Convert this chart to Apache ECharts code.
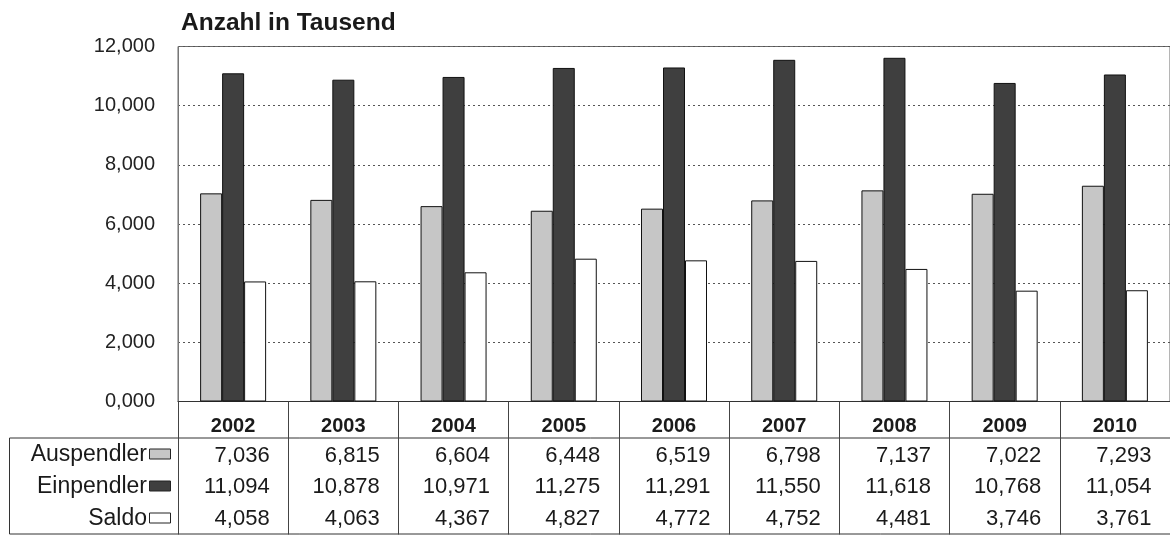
<!DOCTYPE html>
<html>
<head>
<meta charset="utf-8">
<script src="https://cdn.jsdelivr.net/npm/echarts@6/dist/echarts.min.js"></script>
<style>
  html, body { margin: 0; padding: 0; background: #fff; }
  #chart { width: 1170px; height: 536px; }
</style>
</head>
<body>
<div id="chart"></div>
<script>
// Pendler je Jahr, Anzahl in Tausend
const years = ['2002', '2003', '2004', '2005', '2006', '2007', '2008', '2009', '2010'];
const auspendler = [7.036, 6.815, 6.604, 6.448, 6.519, 6.798, 7.137, 7.022, 7.293];
const einpendler = [11.094, 10.878, 10.971, 11.275, 11.291, 11.550, 11.618, 10.768, 11.054];
const saldo = [4.058, 4.063, 4.367, 4.827, 4.772, 4.752, 4.481, 3.746, 3.761];
const seriesNames = ['Auspendler', 'Einpendler', 'Saldo'];
const seriesData = [auspendler, einpendler, saldo];
const yTicks = { min: 0, max: 12, step: 2 };

const fills = ['#c6c6c6', '#3f3f3f', '#ffffff'];
const FONT = '"Liberation Sans", Arial, sans-serif';

// 7.036 -> "7,036"
const fmt = v => v.toFixed(3).replace('.', ',');

const chart = echarts.init(document.getElementById('chart'), null, { renderer: 'canvas' });

const GRID = { left: 178, top: 46.5, width: 998, height: 355 };

const option = {
  backgroundColor: '#ffffff',
  animation: false,
  textStyle: { fontFamily: FONT },
  title: {
    text: 'Anzahl in Tausend',
    left: 176, top: 6,
    textStyle: { fontFamily: FONT, fontSize: 24.5, fontWeight: 'bold', color: '#1a1a1a' }
  },
  grid: {
    left: GRID.left, top: GRID.top, width: GRID.width, height: GRID.height,
    show: true, borderColor: '#6a6a6a', borderWidth: 1, backgroundColor: 'transparent'
  },
  xAxis: {
    type: 'category',
    data: years,
    axisLine: { show: true, lineStyle: { color: '#333', width: 1 } },
    axisTick: { show: true, interval: 0, length: 133, lineStyle: { color: '#444', width: 1 } },
    axisLabel: {
      interval: 0,
      margin: 12,
      align: 'center',
      formatter: (val, idx) => {
        const rows = seriesData.map(d => '{v|' + fmt(d[idx]) + '}');
        return ['{y|' + val + '}'].concat(rows).join('\n');
      },
      rich: {
        y: { fontFamily: FONT, fontSize: 20, fontWeight: 'bold', color: '#1a1a1a',
             width: 73, align: 'center', lineHeight: 26.5 },
        v: { fontFamily: FONT, fontSize: 22, color: '#1a1a1a',
             width: 73, align: 'right', lineHeight: 31.5 }
      }
    }
  },
  yAxis: {
    type: 'value',
    min: yTicks.min, max: yTicks.max, interval: yTicks.step,
    axisLine: { show: true, lineStyle: { color: '#777', width: 1 } },
    axisTick: { show: false },
    axisLabel: {
      margin: 23,
      fontFamily: FONT, fontSize: 20, color: '#222',
      formatter: v => fmt(v)
    },
    splitLine: { show: true, lineStyle: { color: '#555', width: 1, type: [2, 3] } }
  },
  series: seriesNames.map((name, i) => ({
    name: name,
    type: 'bar',
    data: seriesData[i],
    barWidth: 22,
    barGap: '0%',
    itemStyle: { color: fills[i], borderColor: '#111', borderWidth: 1 }
  }))
};

chart.setOption(option);

// Table frame and row headers with colour keys
function drawTable() {
  const axisY = GRID.top + GRID.height;
  const headBottom = axisY + 36.5;
  const tableBottom = 534;
  const rowH = (tableBottom - headBottom) / seriesNames.length;
  const right = GRID.left + GRID.width;
  const lineStyle = { stroke: '#333', lineWidth: 1 };
  const els = [
    { type: 'line', shape: { x1: 9.5, y1: headBottom, x2: right, y2: headBottom }, style: lineStyle, silent: true },
    { type: 'line', shape: { x1: 9.5, y1: tableBottom, x2: right, y2: tableBottom }, style: lineStyle, silent: true },
    { type: 'line', shape: { x1: 9.5, y1: headBottom, x2: 9.5, y2: tableBottom }, style: lineStyle, silent: true }
  ];
  seriesNames.forEach((name, i) => {
    const cy = headBottom + rowH * (i + 0.5);
    els.push({
      type: 'text', silent: true,
      style: { text: name, x: 147, y: cy + 1, align: 'right', verticalAlign: 'middle',
               font: '23px ' + FONT, fill: '#1a1a1a' }
    });
    els.push({
      type: 'rect', silent: true,
      shape: { x: 149.5, y: cy - 5, width: 21, height: 10 },
      style: { fill: fills[i], stroke: '#222', lineWidth: 1 }
    });
  });
  chart.setOption({ graphic: els });
}
drawTable();
</script>
</body>
</html>
